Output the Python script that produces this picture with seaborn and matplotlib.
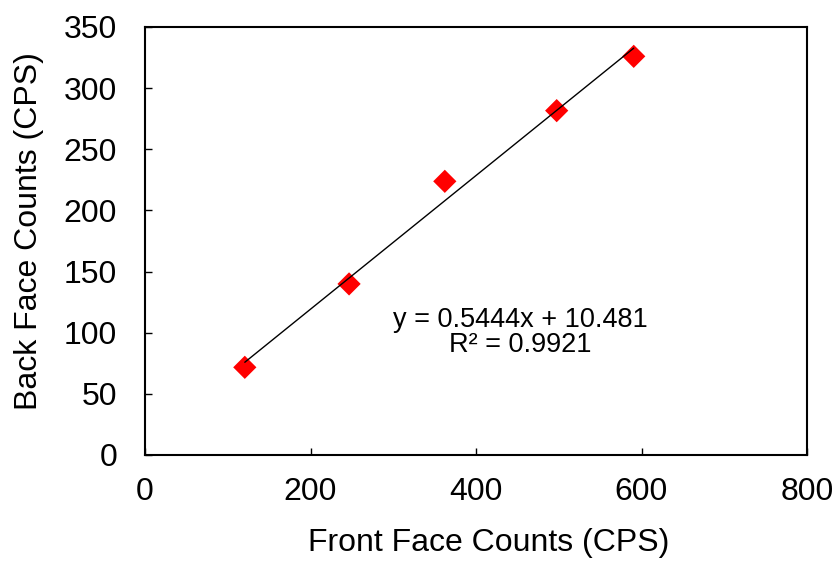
import numpy as np
import pandas as pd
import matplotlib
matplotlib.use("Agg")
import matplotlib.pyplot as plt
import seaborn as sns

front_cps = [120.6, 246.6, 362.3, 497.5, 590.6]
back_cps = [71.7, 139.9, 223.8, 281.6, 326.0]
x_ticks = [0, 200, 400, 600, 800]
y_ticks = [0, 50, 100, 150, 200, 250, 300, 350]
eq_text = "y = 0.5444x + 10.481"
r2_text = "R² = 0.9921"

df = pd.DataFrame({"front": front_cps, "back": back_cps})

sns.set_theme(style="white")
plt.rcParams["font.family"] = ["Liberation Sans", "DejaVu Sans"]

fig = plt.figure(figsize=(8.36, 5.61), dpi=100)
ax = fig.add_axes([145 / 836, 1 - 455 / 561, (807 - 145) / 836, (455 - 27) / 561])

sns.scatterplot(data=df, x="front", y="back", ax=ax, marker="D", s=140,
                color="#ff0000", edgecolor="none", zorder=2)
sns.regplot(data=df, x="front", y="back", ax=ax, scatter=False, ci=None,
            truncate=True, line_kws={"color": "black", "lw": 1.0, "zorder": 3})

ax.set_xlim(0, 800)
ax.set_ylim(0, 350)
ax.set_xticks(x_ticks)
ax.set_yticks(y_ticks)
ax.tick_params(direction="in", length=5, width=1, colors="black", labelsize=23,
               left=True, bottom=True)
ax.tick_params(axis="y", pad=20)
ax.tick_params(axis="x", pad=16)
for sp in ax.spines.values():
    sp.set_color("black")
    sp.set_linewidth(1.5)

ax.set_xlabel("Front Face Counts (CPS)", fontsize=23, color="black")
ax.set_ylabel("Back Face Counts (CPS)", fontsize=23, color="black")
ax.xaxis.set_label_coords(0.519, -0.170)
ax.yaxis.set_label_coords(-0.153, 0.523)

ax.text(454, 100.0, eq_text + "\n" + r2_text, ha="center", va="center",
        multialignment="center", linespacing=0.95, fontsize=19.5, color="black")

fig.savefig("out.png", dpi=100)
